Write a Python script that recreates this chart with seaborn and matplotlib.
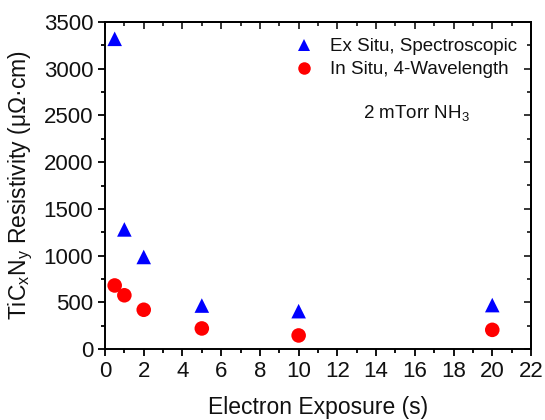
import numpy as np
import pandas as pd
import matplotlib
matplotlib.use("Agg")
import matplotlib.pyplot as plt
import seaborn as sns
from matplotlib.ticker import MultipleLocator

exposure_s = [0.5, 1, 2, 5, 10, 20]
ex_situ = [3320, 1280, 985, 465, 405, 470]
in_situ = [680, 575, 420, 220, 145, 205]
series_names = ["Ex Situ, Spectroscopic", "In Situ, 4-Wavelength"]

df = pd.DataFrame({
    "Exposure": exposure_s * 2,
    "Resistivity": ex_situ + in_situ,
    "Method": [series_names[0]] * len(exposure_s) + [series_names[1]] * len(exposure_s),
})

sns.set_theme(style="ticks")
plt.rcParams["font.family"] = ["Liberation Sans", "DejaVu Sans"]
plt.rcParams["mathtext.fontset"] = "custom"
plt.rcParams["mathtext.rm"] = "Liberation Sans"
plt.rcParams["mathtext.it"] = "Liberation Sans"

fig = plt.figure(figsize=(5.45, 4.2), dpi=100)
ax = fig.add_axes([105 / 545, 1 - 349 / 420, 426 / 545, 327 / 420])

sns.scatterplot(
    data=df, x="Exposure", y="Resistivity", hue="Method", style="Method",
    palette={series_names[0]: "#0000ff", series_names[1]: "#ff0000"},
    markers={series_names[0]: "^", series_names[1]: "o"},
    s=110, edgecolor="none", linewidth=0, ax=ax, legend=True,
)

ax.set_xlim(0, 22)
ax.set_ylim(0, 3500)
ax.xaxis.set_major_locator(MultipleLocator(2))
ax.xaxis.set_minor_locator(MultipleLocator(1))
ax.yaxis.set_major_locator(MultipleLocator(500))
ax.yaxis.set_minor_locator(MultipleLocator(250))

for s in ax.spines.values():
    s.set_linewidth(1.4)
    s.set_color("black")

ax.tick_params(which="both", direction="out", width=1.3, colors="black",
               labelsize=16, labelcolor="#111111", top=False, right=False)
ax.tick_params(which="major", length=5)
ax.tick_params(which="minor", length=3)

# Inward ticks on the top and right edges
ax_top = ax.secondary_xaxis("top")
ax_top.xaxis.set_major_locator(MultipleLocator(2))
ax_top.xaxis.set_minor_locator(MultipleLocator(1))
ax_top.tick_params(which="both", direction="in", width=1.3, labeltop=False)
ax_top.tick_params(which="major", length=5)
ax_top.tick_params(which="minor", length=3)
ax_right = ax.secondary_yaxis("right")
ax_right.yaxis.set_major_locator(MultipleLocator(500))
ax_right.yaxis.set_minor_locator(MultipleLocator(250))
ax_right.tick_params(which="both", direction="in", width=1.3, labelright=False)
ax_right.tick_params(which="major", length=5)
ax_right.tick_params(which="minor", length=3)

ax.set_xlabel("Electron Exposure (s)", fontsize=16.5, labelpad=10, color="#111111")
ax.set_ylabel("TiC$_\\mathregular{x}$N$_\\mathregular{y}$ Resistivity (μΩ·cm)",
              fontsize=16.5, labelpad=6, color="#111111")

leg = ax.legend(loc="upper left", frameon=False, fontsize=13.5,
                handletextpad=0.9, borderaxespad=0, borderpad=0,
                labelspacing=0.3, handlelength=1.0,
                bbox_to_anchor=(0.445, 0.950))
for t in leg.get_texts():
    t.set_color("#111111")
for h in leg.legend_handles:
    try:
        h.set_markersize(9)
    except AttributeError:
        h.set_sizes([80])
ax.text(0.73, 0.722, "2 mTorr NH$_\\mathregular{3}$", transform=ax.transAxes,
        fontsize=13.5, ha="center", va="center", color="#111111")

fig.savefig("out.png", dpi=100)
